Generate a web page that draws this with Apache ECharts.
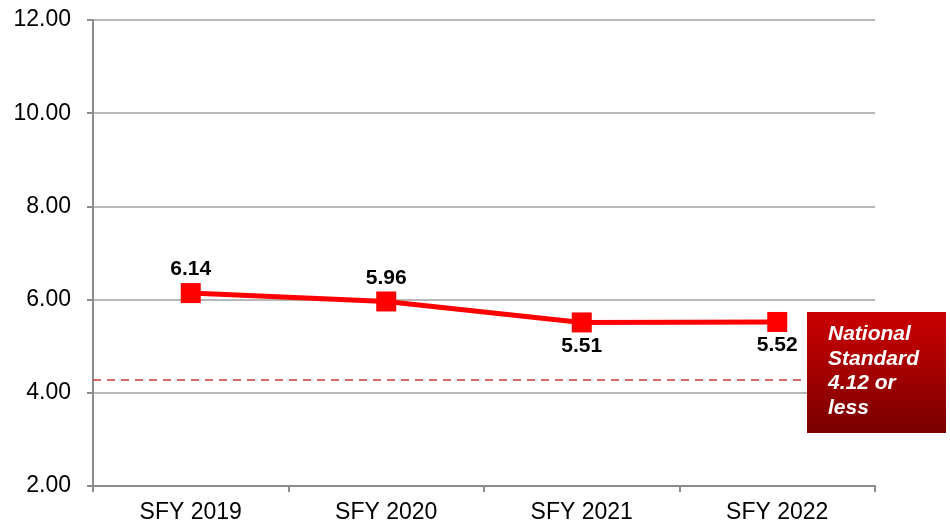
<!DOCTYPE html>
<html>
<head>
<meta charset="utf-8">
<script src="https://cdn.jsdelivr.net/npm/echarts@6/dist/echarts.min.js"></script>
<style>
html, body { margin: 0; padding: 0; background: #fff; }
#main { width: 950px; height: 525px; }
</style>
</head>
<body>
<div id="main"></div>
<script>
// 数据
var years = ['SFY 2019', 'SFY 2020', 'SFY 2021', 'SFY 2022'];
var rates = [6.14, 5.96, 5.51, 5.52];
var labelPos = ['top', 'top', 'bottom', 'bottom'];
var standardLine = 4.27; // where the dashed line sits in the picture
var standardText = ['National', 'Standard', '4.12 or', 'less'];

var chartDom = document.getElementById('main');
var myChart = echarts.init(chartDom);
var option;
option = {
    animation: false,
    grid: {
        left: 93,
        right: 75,
        top: 20,
        bottom: 39
    },
    xAxis: {
        type: 'category',
        data: years,
        boundaryGap: true,
        axisLine: { lineStyle: { color: '#8c8c8c', width: 2 } },
        axisTick: { show: true, length: 6, lineStyle: { color: '#8c8c8c', width: 2 } },
        axisLabel: {
            color: '#000',
            fontSize: 23,
            fontFamily: 'Liberation Sans, Arial',
            margin: 15
        }
    },
    yAxis: {
        type: 'value',
        min: 2,
        max: 12,
        interval: 2,
        axisLine: { show: true, lineStyle: { color: '#8c8c8c', width: 2 } },
        axisTick: { show: true, length: 6, lineStyle: { color: '#8c8c8c', width: 2 } },
        splitLine: { lineStyle: { color: '#a0a0a0', width: 1.5 } },
        axisLabel: {
            color: '#000',
            fontSize: 23,
            fontFamily: 'Liberation Sans, Arial',
            margin: 22,
            formatter: function (v) { return v.toFixed(2); }
        }
    },
    series: [
        {
            name: 'rate',
            type: 'line',
            data: rates.map(function (v, i) {
                return { value: v, label: { position: labelPos[i] } };
            }),
            symbol: 'rect',
            symbolSize: 20,
            lineStyle: { color: '#ff0000', width: 5 },
            itemStyle: { color: '#ff0000' },
            label: {
                show: true,
                color: '#000',
                fontSize: 21,
                fontWeight: 'bold',
                fontFamily: 'Liberation Sans, Arial',
                distance: 3,
                formatter: function (p) { return p.value.toFixed(2); }
            },
            markLine: {
                silent: true,
                symbol: 'none',
                label: { show: false },
                lineStyle: { color: '#c43c3c', type: [8, 6], width: 1.5 },
                data: [{ yAxis: standardLine }]
            },
            z: 3
        }
    ],
    graphic: [
        {
            type: 'rect',
            left: 807,
            top: 312,
            shape: { width: 139, height: 121 },
            style: {
                fill: new echarts.graphic.LinearGradient(0, 0, 0, 1, [
                    { offset: 0, color: '#cc0000' },
                    { offset: 1, color: '#7a0000' }
                ])
            },
            z: 10
        },
        {
            type: 'text',
            left: 828,
            top: 322,
            style: {
                text: standardText.join('\n'),
                fill: '#fff',
                font: 'italic bold 21px "Liberation Sans", Arial',
                lineHeight: 24.5
            },
            z: 11
        }
    ]
};
option && myChart.setOption(option);
</script>
</body>
</html>
